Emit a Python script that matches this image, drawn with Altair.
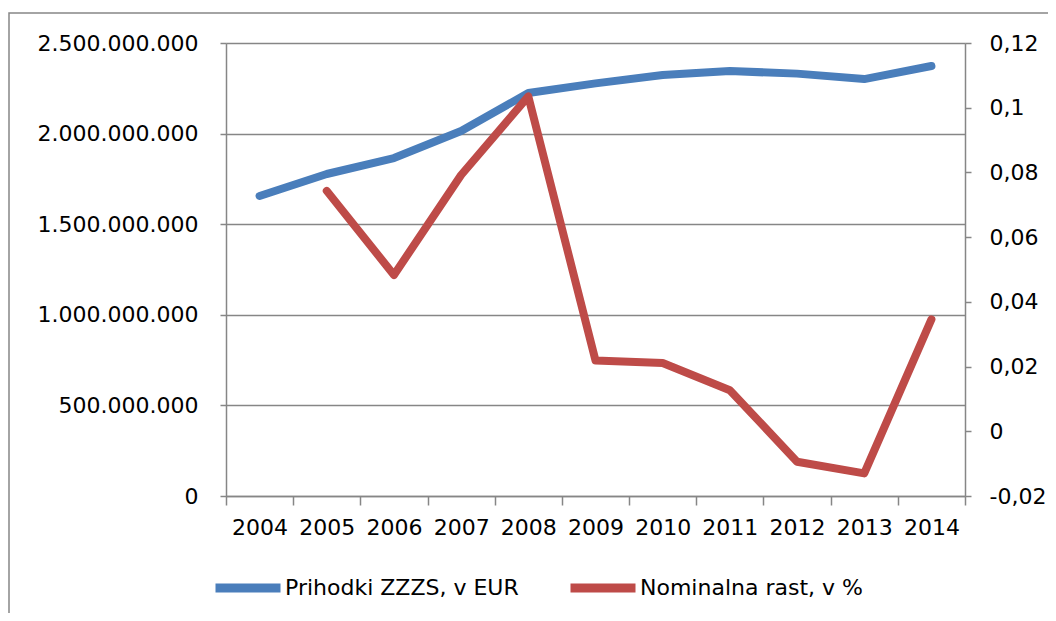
import altair as alt
import pandas as pd

years = ["2004", "2005", "2006", "2007", "2008", "2009", "2010", "2011", "2012", "2013", "2014"]
revenue = [1.656e9, 1.777e9, 1.865e9, 2.014e9, 2.224e9, 2.277e9, 2.323e9, 2.345e9, 2.331e9, 2.301e9, 2.373e9]
growth = [None, 0.0743, 0.0483, 0.0792, 0.1035, 0.0219, 0.0211, 0.0127, -0.0094, -0.0130, 0.0346]
series = ["Prihodki ZZZS, v EUR", "Nominalna rast, v %"]
colors = ["#4A7EBB", "#BE4B48"]
left_ticks = [0, 5e8, 1e9, 1.5e9, 2e9, 2.5e9]
right_ticks = [-0.02, 0.0, 0.02, 0.04, 0.06, 0.08, 0.1, 0.12]

df_rev = pd.DataFrame({"year": years, "value": revenue, "series": series[0]})
df_gr = pd.DataFrame({"year": years, "value": growth, "series": series[1]}).dropna()

FONT = "DejaVu Sans"
GRID = "#868686"

x_enc = alt.X(
    "year:N",
    sort=years,
    bandPosition=0.5,
    scale=alt.Scale(type="band", paddingInner=0, paddingOuter=0),
    axis=alt.Axis(
        title=None, tickBand="extent", tickSize=9, labelPadding=12,
        domainColor=GRID, tickColor=GRID, domainWidth=1.5, tickWidth=1.5,
        labelFontSize=22, labelFont=FONT, labelColor="#000000", grid=False, labelAngle=0,
    ),
)

color_enc = alt.Color(
    "series:N",
    scale=alt.Scale(domain=series, range=colors),
    legend=alt.Legend(
        title=None, orient="none", direction="horizontal", legendX=-15, legendY=508,
        symbolType="stroke", symbolStrokeWidth=9, symbolSize=4225,
        labelFontSize=22, labelFont=FONT, labelColor="#000000", labelOffset=0,
        labelLimit=500, columnPadding=33,
    ),
)

rev = alt.Chart(df_rev).mark_line(strokeWidth=8, strokeCap="round", strokeJoin="round").encode(
    x=x_enc,
    y=alt.Y(
        "value:Q",
        scale=alt.Scale(domain=[0, 2.5e9], nice=False),
        axis=alt.Axis(
            title=None, orient="left", values=left_ticks, format=",.0f",
            tickSize=6, labelPadding=22, grid=True, gridColor=GRID, gridWidth=1.5,
            domainColor=GRID, tickColor=GRID, domainWidth=1.5, tickWidth=1.5,
            labelFontSize=22, labelFont=FONT, labelColor="#000000",
        ),
    ),
    color=color_enc,
)

gr = alt.Chart(df_gr).mark_line(strokeWidth=8, strokeCap="round", strokeJoin="round").encode(
    x=x_enc,
    y=alt.Y(
        "value:Q",
        scale=alt.Scale(domain=[-0.02, 0.12], nice=False),
        axis=alt.Axis(
            title=None, orient="right", values=right_ticks, format=".2~f",
            tickSize=6, labelPadding=18, grid=False,
            domainColor=GRID, tickColor=GRID, domainWidth=1.5, tickWidth=1.5,
            labelFontSize=22, labelFont=FONT, labelColor="#000000",
        ),
    ),
    color=color_enc,
)

frame = alt.Chart(pd.DataFrame({"a": [0]})).mark_rect(
    filled=False, stroke=GRID, strokeWidth=1.5
).encode(
    x=alt.value(-217), x2=alt.value(900), y=alt.value(-30), y2=alt.value(700)
)

chart = alt.layer(frame, rev, gr).resolve_scale(y="independent").properties(
    width=739, height=453,
    autosize=alt.AutoSizeParams(type="none"),
    padding={"left": 218, "top": 35, "right": 83, "bottom": 117},
).configure_view(strokeWidth=0).configure(
    locale={"number": {"decimal": ",", "thousands": ".", "grouping": [3],
                       "currency": ["", " €"], "minus": "-"}}
)

chart.save("out.html", embed_options={"renderer": "svg", "actions": False})
